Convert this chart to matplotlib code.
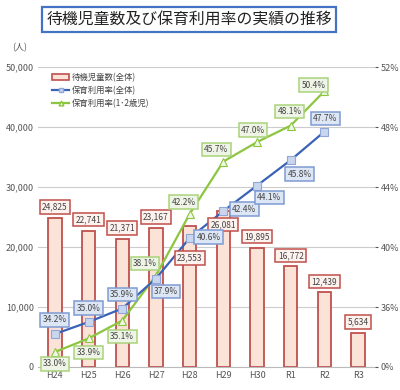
import matplotlib.pyplot as plt
from matplotlib.patches import Rectangle
from matplotlib.lines import Line2D

plt.rcParams['font.family'] = ['Noto Sans CJK JP', 'DejaVu Sans']

years = ['H24', 'H25', 'H26', 'H27', 'H28', 'H29', 'H30', 'R1', 'R2', 'R3']
waiting = [24825, 22741, 21371, 23167, 23553, 26081, 19895, 16772, 12439, 5634]
rate_all = [34.2, 35.0, 35.9, 37.9, 40.6, 42.4, 44.1, 45.8, 47.7]
rate_12 = [33.0, 33.9, 35.1, 38.1, 42.2, 45.7, 47.0, 48.1, 50.4]

# label offsets (pixels)
bar_off = [11, 11, 11, 11, -32, -14, 11, 11, 11, 11]
blue_off = [(0, 14), (0, 14), (0, 14), (10, -13), (19, 1), (21, 2), (12, -12), (9, -14), (1, 13)]
green_off = [(0, -12), (0, -14), (0, -16), (-11, 12), (-6, 12), (-7, 12), (-4, 12), (-1, 14), (-11, 6)]

RED = '#c0504d'
BLUE = '#3a62b5'
GREEN = '#8cc63f'

fig = plt.figure(figsize=(4, 3.9), dpi=100)
ax = fig.add_axes([0.095, 0.059, 0.8425, 0.769])
x = list(range(len(years)))

ax.bar(x, waiting, width=0.4, color='#fbe3d8', edgecolor=RED, linewidth=1.3, zorder=2)
ax.set_ylim(0, 50000)
ax.set_xlim(-0.5, 9.5)
ax.set_yticks(range(0, 50001, 10000))
ax.set_yticklabels([f'{v:,}' for v in range(0, 50001, 10000)])
ax.yaxis.grid(True, color='#cccccc', linewidth=0.8, zorder=0)
ax.set_axisbelow(True)
ax.set_xticks(x)
ax.set_xticklabels(years)
for s in ['top', 'right', 'left']:
    ax.spines[s].set_visible(False)
ax.spines['bottom'].set_color('#bbbbbb')
ax.tick_params(axis='both', length=0, labelsize=6.5, colors='#555555', pad=3)

ax2 = ax.twinx()
ax2.set_ylim(32, 52)
ax2.set_yticks([32, 36, 40, 44, 48, 52])
ax2.set_yticklabels(['0%', '36%', '40%', '44%', '48%', '52%'])
for s in ax2.spines.values():
    s.set_visible(False)
ax2.tick_params(axis='y', length=2, labelsize=6.5, colors='#555555', pad=2)

ax2.plot(x[:9], rate_12, color=GREEN, linewidth=1.6, marker='^', markersize=6,
         markerfacecolor='#eef6e6', markeredgecolor=GREEN, markeredgewidth=0.8, zorder=3)
ax2.plot(x[:9], rate_all, color=BLUE, linewidth=1.6, marker='s', markersize=5.5,
         markerfacecolor='#c9d6ee', markeredgecolor='#8fa7d8', markeredgewidth=0.8, zorder=4)

for i, v in enumerate(waiting):
    ax2.annotate(f'{v:,}', (x[i], 32 + v / 2500), xytext=(0, bar_off[i]),
                 textcoords='offset pixels', ha='center', va='center', fontsize=6,
                 color='#444444', zorder=6,
                 bbox=dict(boxstyle='square,pad=0.28', fc='#fdf2ee', ec=RED, lw=1.1))

for i, v in enumerate(rate_all):
    ax2.annotate(f'{v}%', (x[i], v), xytext=blue_off[i], textcoords='offset pixels',
                 ha='center', va='center', fontsize=6, color='#444444', zorder=6,
                 bbox=dict(boxstyle='square,pad=0.28', fc='#dde6f5', ec='#7f9bd3', lw=1.1))

for i, v in enumerate(rate_12):
    ax2.annotate(f'{v}%', (x[i], v), xytext=green_off[i], textcoords='offset pixels',
                 ha='center', va='center', fontsize=6, color='#444444', zorder=6,
                 bbox=dict(boxstyle='square,pad=0.28', fc='#eef5e6', ec='#a9d37a', lw=1.1))

handles = [
    Rectangle((0, 0), 1, 1, fc='#fbe3d8', ec=RED, lw=1.2),
    Line2D([], [], color=BLUE, lw=1.6, marker='s', markersize=3.5,
           markerfacecolor='#c9d6ee', markeredgecolor='#8fa7d8'),
    Line2D([], [], color=GREEN, lw=1.6, marker='^', markersize=3.5,
           markerfacecolor='#eef6e6', markeredgecolor=GREEN),
]
labels = ['待機児童数(全体)', '保育利用率(全体)', '保育利用率(1･2歳児)']
ax2.legend(handles, labels, loc='upper left', bbox_to_anchor=(0.02, 1.005), frameon=False,
           fontsize=6, handlelength=2.0, handletextpad=0.3, labelspacing=0.45,
           labelcolor='#444444')

fig.text(0.03, 0.878, '(人)', fontsize=6.5, color='#555555', va='center')
fig.text(0.4725, 0.95, '待機児童数及び保育利用率の実績の推移', fontsize=11.4,
         ha='center', va='center', color='#222222',
         bbox=dict(boxstyle='square,pad=0.25', fc='white', ec='#4472c4', lw=1.6))

fig.savefig('out.png', dpi=100)
